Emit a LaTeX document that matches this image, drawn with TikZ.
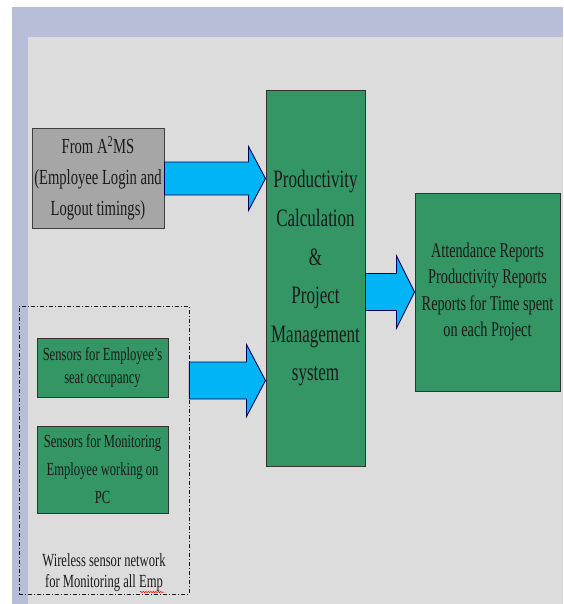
\documentclass[tikz,border=0pt]{standalone}
\usepackage{fontspec}
\setmainfont{Liberation Serif}[FakeStretch=0.68]
\usetikzlibrary{calc,decorations.pathmorphing}

\definecolor{slide}{HTML}{DCDCDC}
\definecolor{frame}{HTML}{B8BDD8}
\definecolor{boxgreen}{HTML}{349664}
\definecolor{boxgrey}{HTML}{A6A6A6}
\definecolor{arrowblue}{HTML}{00B4F5}
\definecolor{ink}{HTML}{1A1A1A}

\tikzset{
    box/.style={draw=black!80, line width=1pt, fill=boxgreen, text=ink, align=center, inner sep=0pt},
    fat shaft/.initial=18.5pt,
    fat head/.initial=36pt,
    fat tip/.initial=18pt,
    fatarrow/.style={draw=blue!35!black, line width=0.9pt, fill=arrowblue,
        to path={let \p1=(\tikztostart), \p2=(\tikztotarget) in
            (\x1,\y1+\pgfkeysvalueof{/tikz/fat shaft})
            -- (\x2-\pgfkeysvalueof{/tikz/fat tip},\y1+\pgfkeysvalueof{/tikz/fat shaft})
            -- (\x2-\pgfkeysvalueof{/tikz/fat tip},\y1+\pgfkeysvalueof{/tikz/fat head})
            -- (\x2,\y1)
            -- (\x2-\pgfkeysvalueof{/tikz/fat tip},\y1-\pgfkeysvalueof{/tikz/fat head})
            -- (\x2-\pgfkeysvalueof{/tikz/fat tip},\y1-\pgfkeysvalueof{/tikz/fat shaft})
            -- (\x1,\y1-\pgfkeysvalueof{/tikz/fat shaft}) -- cycle}},
    groupbox/.style={draw=ink, line width=0.8pt, dash pattern=on 4pt off 2pt on 1pt off 2pt}
}

\begin{document}
\begin{tikzpicture}[x=1pt,y=-1pt]
    \useasboundingbox (0,0) rectangle (563,604);
    \fill[white] (0,0) rectangle (563,604);
    \fill[frame] (12,7) rectangle (563,604);
    \fill[slide] (28,37) rectangle (563,604);

    \node[box, fill=boxgrey, draw=black!75, minimum width=132pt, minimum height=99pt,
        font=\fontsize{21.5}{31}\selectfont] (ams) at (98,178.5)
        {From A\textsuperscript{2}MS\\(Employee Login and\\Logout timings)};
    \node[box, minimum width=99pt, minimum height=375pt,
        font=\fontsize{25}{38.6}\selectfont] (prod) at (315.5,278.5)
        {Productivity\\Calculation\\\&\\Project\\Management\\system};
    \node[box, minimum width=145pt, minimum height=198pt,
        font=\fontsize{21}{26.5}\selectfont] (report) at (487.5,292)
        {Attendance Reports\\Productivity Reports\\Reports for Time spent\\on each Project};

    \node[groupbox, minimum width=170pt, minimum height=288pt] (wsn) at (104,450) {};
    \node[box, minimum width=131pt, minimum height=59pt,
        font=\fontsize{18.5}{23}\selectfont] (seat) at (102.5,367.5)
        {Sensors for Employee's\\seat occupancy};
    \node[box, minimum width=131pt, minimum height=87pt,
        font=\fontsize{18.5}{28}\selectfont] (pc) at (102.5,469.5)
        {Sensors for Monitoring\\Employee working on\\PC};
    \node[text=ink, align=center, font=\fontsize{18.5}{21}\selectfont] (wsnlabel) at (104,573)
        {Wireless sensor network\\for Monitoring all Emp};
    \draw[red, line width=0.5pt, decorate, decoration={snake, amplitude=0.7pt, segment length=2.5pt}]
        (140,592) -- (164,592);

    \coordinate (in2) at (wsn.east |- 0,380.5);
    \draw[fatarrow, fat shaft=16.5pt, fat head=32pt, fat tip=17pt] (ams.east) to (prod.west |- ams.east);
    \draw[fatarrow, fat tip=19pt] (in2) to (prod.west |- in2);
    \draw[fatarrow] (prod.east |- report.west) to (report.west);
\end{tikzpicture}
\end{document}
